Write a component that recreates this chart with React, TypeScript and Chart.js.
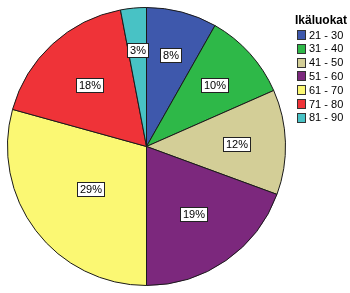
import React, { useEffect, useRef } from "react";
import { Chart, registerables } from "chart.js";

Chart.register(...registerables);

const categories = ["21 - 30", "31 - 40", "41 - 50", "51 - 60", "61 - 70", "71 - 80", "81 - 90"];
const shares = [8.2, 10.2, 12.2, 19.4, 29.3, 17.7, 3.0];
const shareLabels = ["8%", "10%", "12%", "19%", "29%", "18%", "3%"];
const colors = ["#3E58AC", "#2EB848", "#D3CE97", "#7C287D", "#FBF873", "#EF3338", "#48C2C5"];
const legendTitle = "Ikäluokat";

const labelPlugin = {
  id: "sliceLabels",
  afterDatasetsDraw(chart: any) {
    const ctx = chart.ctx;
    const meta = chart.getDatasetMeta(0);
    ctx.save();
    ctx.font = "11px 'Liberation Sans', Arial, sans-serif";
    ctx.textAlign = "center";
    ctx.textBaseline = "middle";
    meta.data.forEach((arc: any, i: number) => {
      const { x, y, startAngle, endAngle, outerRadius } = arc.getProps(
        ["x", "y", "startAngle", "endAngle", "outerRadius"],
        true
      );
      const mid = (startAngle + endAngle) / 2;
      const frac = (endAngle - startAngle) / (2 * Math.PI);
      const r = outerRadius * Math.min(0.7, 0.745 - 0.8 * frac);
      const lx = x + Math.cos(mid) * r;
      const ly = y + Math.sin(mid) * r;
      const text = shareLabels[i];
      const w = Math.round(ctx.measureText(text).width) + 5;
      const h = 14;
      const bx = Math.round(lx - w / 2) + 0.5;
      const by = Math.round(ly - h / 2) + 0.5;
      ctx.fillStyle = "#ffffff";
      ctx.fillRect(bx, by, w, h);
      ctx.strokeStyle = "#222222";
      ctx.lineWidth = 1;
      ctx.strokeRect(bx, by, w, h);
      ctx.fillStyle = "#000000";
      ctx.fillText(text, bx + w / 2, by + h / 2 + 0.5);
    });
    ctx.restore();
  },
};

const legendPlugin = {
  id: "sideLegend",
  afterDraw(chart: any) {
    const ctx = chart.ctx;
    ctx.save();
    ctx.fillStyle = "#000000";
    ctx.textBaseline = "middle";
    ctx.textAlign = "left";
    ctx.font = "bold 12px 'Liberation Sans', Arial, sans-serif";
    ctx.fillText(legendTitle, 295, 21);
    ctx.font = "11px 'Liberation Sans', Arial, sans-serif";
    categories.forEach((c, i) => {
      const yc = 35 + i * 13.8;
      const bx = 297.5;
      const by = Math.round(yc - 5) + 0.5;
      ctx.fillStyle = colors[i];
      ctx.fillRect(bx, by, 8, 9);
      ctx.strokeStyle = "#333333";
      ctx.lineWidth = 1;
      ctx.strokeRect(bx, by, 8, 9);
      ctx.fillStyle = "#000000";
      ctx.fillText(c, 309, yc + 0.5);
    });
    ctx.restore();
  },
};

export default function App() {
  const ref = useRef<HTMLCanvasElement>(null);
  useEffect(() => {
    if (!ref.current) return;
    const chart = new Chart(ref.current, {
      type: "pie",
      data: {
        labels: categories,
        datasets: [
          {
            data: shares,
            backgroundColor: colors,
            borderColor: "#1a1a1a",
            borderWidth: 1,
          },
        ],
      },
      options: {
        responsive: false,
        animation: false,
        layout: { padding: { left: 7, top: 7, bottom: 7, right: 64 } },
        plugins: {
          legend: { display: false },
          tooltip: { enabled: false },
        },
      },
      plugins: [labelPlugin, legendPlugin],
    });
    return () => chart.destroy();
  }, []);
  return (
    <div style={{ position: "fixed", left: 0, top: 0, width: 350, height: 293, background: "#fff" }}>
      <canvas ref={ref} width={350} height={293} style={{ display: "block" }} />
    </div>
  );
}
